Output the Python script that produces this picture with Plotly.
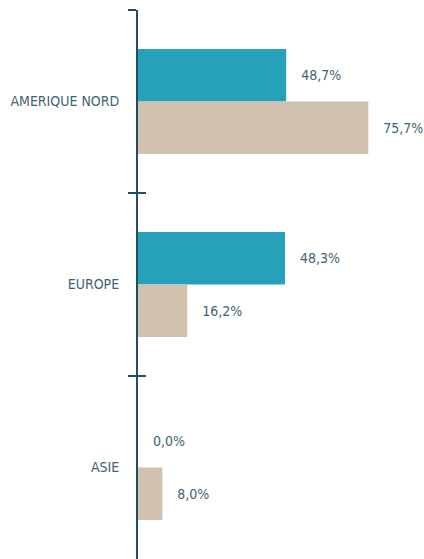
import plotly.graph_objects as go

categories = ["AMERIQUE NORD", "EUROPE", "ASIE"]
series_a = [48.7, 48.3, 0.0]
series_b = [75.7, 16.2, 8.0]

teal = "#27a0b9"
beige = "#d0c2ae"
text_col = "#3e6372"
axis_col = "#1f4e5f"
font_family = "DejaVu Sans Condensed, Roboto, sans-serif"

fig = go.Figure()
fig.add_trace(go.Bar(
    y=categories, x=series_a, orientation="h", marker=dict(color=teal, line=dict(width=0)),
    texttemplate="\u00a0\u00a0\u00a0%{x:.1f}%", textposition="outside", cliponaxis=False,
    textfont=dict(size=14, color=text_col, family=font_family), name="A", showlegend=False,
))
fig.add_trace(go.Bar(
    y=categories, x=series_b, orientation="h", marker=dict(color=beige, line=dict(width=0)),
    texttemplate="\u00a0\u00a0\u00a0%{x:.1f}%", textposition="outside", cliponaxis=False,
    textfont=dict(size=14, color=text_col, family=font_family), name="B", showlegend=False,
))
# invisible trace for inner tick marks
fig.add_trace(go.Scatter(y=categories, x=[0, 0, 0], yaxis="y2", mode="markers",
                         marker=dict(opacity=0), showlegend=False, hoverinfo="skip"))

fig.update_layout(
    width=424, height=559,
    margin=dict(l=138, r=0, t=10, b=0),
    paper_bgcolor="white", plot_bgcolor="white",
    barmode="group", bargap=0.426, bargroupgap=0,
    separators=", ",
    font=dict(family=font_family, color=text_col, size=14),
    xaxis=dict(range=[0, 94], visible=False, showgrid=False, zeroline=False),
    yaxis=dict(
        categoryorder="array", categoryarray=categories, range=[2.5, -0.5], autorange=False,
        showline=True, linecolor=axis_col, linewidth=2, automargin=False,
        ticks="outside", tickson="boundaries", ticklen=8, tickwidth=2, tickcolor=axis_col,
        showgrid=False, ticklabelstandoff=14,
        tickfont=dict(size=14, color=text_col, family=font_family),
    ),
    yaxis2=dict(
        overlaying="y", side="left", anchor="x", automargin=False,
        categoryorder="array", categoryarray=categories, range=[2.5, -0.5], autorange=False,
        showline=False, ticks="inside", tickson="boundaries", ticklen=8, tickwidth=2,
        tickcolor=axis_col, showticklabels=False, showgrid=False,
    ),
)

fig.write_html("out.html", config={"displayModeBar": False},
               post_script="document.body.style.margin='0';")
